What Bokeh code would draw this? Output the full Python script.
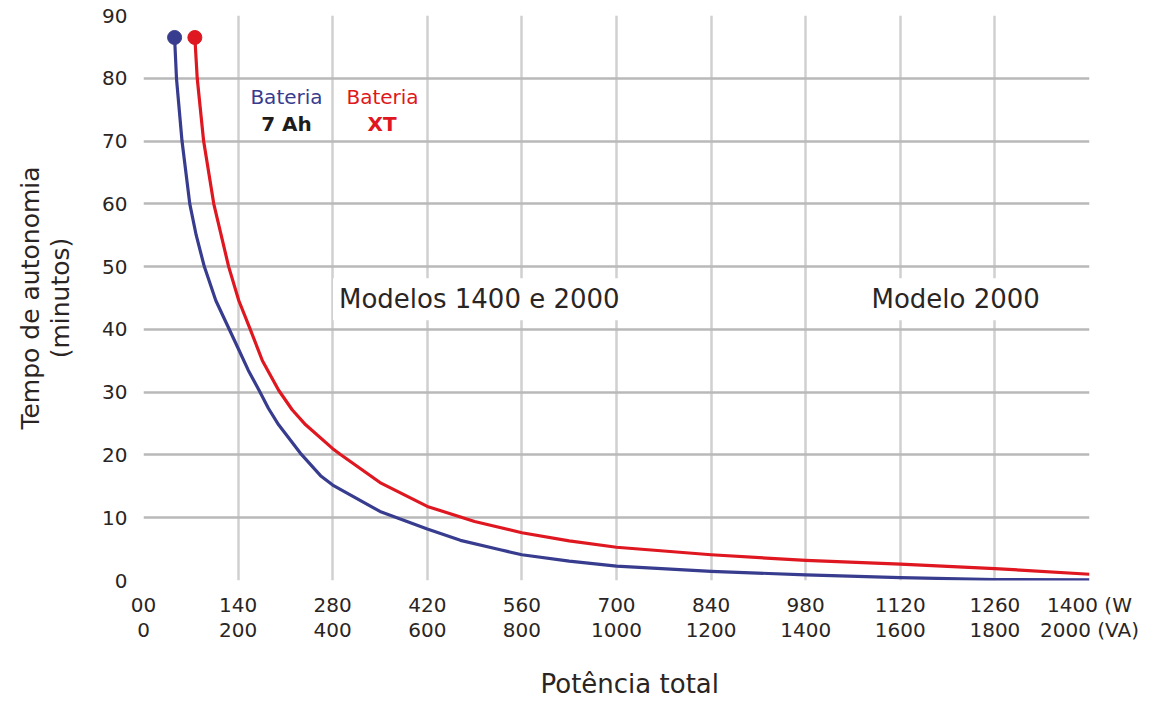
from bokeh.plotting import figure
from bokeh.models import Range1d, FixedTicker, Label, Title
from bokeh.embed import file_html
from bokeh.resources import INLINE

# ---- data ----
watts_7ah = [46, 48.8, 57, 68.5, 78, 90, 107, 140, 155, 171, 185, 200, 232, 262, 280, 350, 420, 469, 528, 560, 630, 700, 840, 980, 1120, 1260, 1400]
min_7ah = [86.5, 80, 70, 60, 55, 50, 44.6, 37.0, 33.5, 30.3, 27.4, 24.8, 20.3, 16.7, 15.2, 11.0, 8.2, 6.4, 4.9, 4.1, 3.1, 2.3, 1.45, 0.9, 0.45, 0.15, 0.1]

watts_xt = [76, 79.5, 89, 104, 126, 141, 158, 176, 200, 220, 240, 280, 291, 350, 420, 490, 560, 630, 700, 840, 980, 1120, 1260, 1400]
min_xt = [86.5, 80, 70, 60, 50, 44.6, 40, 35, 30.3, 27.2, 24.8, 21.0, 20.1, 15.6, 11.8, 9.4, 7.6, 6.3, 5.3, 4.1, 3.2, 2.6, 1.9, 1.0]

x_ticks = [0, 140, 280, 420, 560, 700, 840, 980, 1120, 1260, 1400]
x_tick_labels = ["00\n0", "140\n200", "280\n400", "420\n600", "560\n800", "700\n1000",
                 "840\n1200", "980\n1400", "1120\n1600", "1260\n1800", "1400 (W\n2000 (VA)"]
y_ticks = [0, 10, 20, 30, 40, 50, 60, 70, 80, 90]
y_grid_ticks = [10, 20, 30, 40, 50, 60, 70, 80, 90]

BLUE = "#383c8e"
RED = "#df1720"
TXT = "#2a2523"
FONT = "DejaVu Sans"

p = figure(frame_width=946, frame_height=565, x_range=Range1d(0, 1400), y_range=Range1d(0, 90),
           output_backend="svg", toolbar_location=None,
           min_border_left=143, min_border_right=87, min_border_top=15, min_border_bottom=124)
p.outline_line_color = None
p.background_fill_color = "white"

# axes
p.xaxis.ticker = FixedTicker(ticks=x_ticks)
p.xaxis.major_label_overrides = {t: l for t, l in zip(x_ticks, x_tick_labels)}
p.yaxis.ticker = FixedTicker(ticks=y_ticks)
for ax in (p.xaxis[0], p.yaxis[0]):
    ax.axis_line_color = None
    ax.major_tick_line_color = None
    ax.minor_tick_line_color = None
    ax.major_tick_out = 0
    ax.major_tick_in = 0
    ax.major_label_text_font = FONT
    ax.major_label_text_font_size = "20px"
    ax.major_label_text_color = TXT
p.xaxis.major_label_text_line_height = 1.05
p.xaxis.major_label_standoff = 12
p.yaxis.major_label_standoff = 16

p.yaxis.axis_label = "Tempo de autonomia\n(minutos)"
p.yaxis.axis_label_text_font = FONT
p.yaxis.axis_label_text_font_size = "25px"
p.yaxis.axis_label_text_font_style = "normal"
p.yaxis.axis_label_text_color = TXT
p.yaxis.axis_label_text_line_height = 1.05
p.yaxis.axis_label_standoff = 24

# grid
p.ygrid.ticker = FixedTicker(ticks=y_grid_ticks)
p.ygrid.grid_line_color = "#b9b9b9"
p.ygrid.grid_line_width = 2.5
p.xgrid.ticker = FixedTicker(ticks=x_ticks)
p.xgrid.grid_line_color = "#d0d0d0"
p.xgrid.grid_line_width = 2.5

# x-axis title
p.add_layout(Title(text="Potência total", align="left", offset=397,
                   text_font=FONT, text_font_size="26px", text_font_style="normal",
                   text_line_height=1.0, text_color=TXT, standoff=45), "below")

# region labels (white background)
for txt, xc in (("Modelos 1400 e 2000", 497), ("Modelo 2000", 1202)):
    p.add_layout(Label(x=xc, y=44.8, text=txt, text_align="center", text_baseline="middle",
                       text_font=FONT, text_font_size="26px", text_color=TXT,
                       background_fill_color="white", padding=6))

# curves
p.line(watts_7ah, min_7ah, line_color=BLUE, line_width=3.2, line_join="round")
p.line(watts_xt, min_xt, line_color=RED, line_width=3.2, line_join="round")
p.scatter([watts_7ah[0]], [min_7ah[0]], size=14, fill_color=BLUE, line_color=BLUE)
p.scatter([watts_xt[0]], [min_xt[0]], size=14, fill_color=RED, line_color=RED)

# series labels
p.add_layout(Label(x=211.6, y=77.0, text="Bateria", text_align="center", text_baseline="middle",
                   text_font=FONT, text_font_size="20px", text_color=BLUE))
p.add_layout(Label(x=211.6, y=72.7, text="7 Ah", text_align="center", text_baseline="middle",
                   text_font=FONT, text_font_size="20px", text_font_style="bold", text_color="#1e1b1b"))
p.add_layout(Label(x=353.7, y=77.0, text="Bateria", text_align="center", text_baseline="middle",
                   text_font=FONT, text_font_size="20px", text_color=RED))
p.add_layout(Label(x=353.0, y=72.7, text="XT", text_align="center", text_baseline="middle",
                   text_font=FONT, text_font_size="20px", text_font_style="bold", text_color=RED))

open("out.html", "w").write(file_html(p, INLINE))
